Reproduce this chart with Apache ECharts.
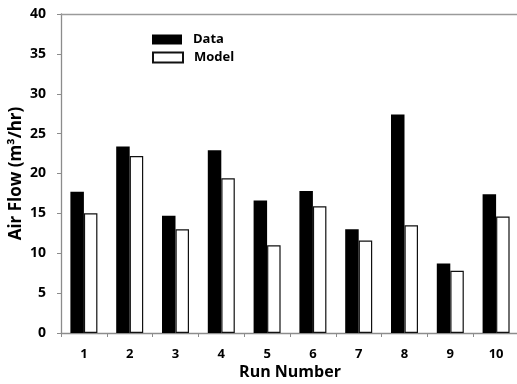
<!DOCTYPE html>
<html><head><meta charset="utf-8">
<script src="https://cdn.jsdelivr.net/npm/echarts@6/dist/echarts.min.js"></script>
<style>html,body{margin:0;padding:0;background:#fff}#c{width:517px;height:384px}</style>
</head><body><div id="c"></div>
<script>
const categories = ['1','2','3','4','5','6','7','8','9','10'];
const dataValues = [17.7, 23.4, 14.7, 22.9, 16.6, 17.8, 13.0, 27.4, 8.7, 17.4];
const modelValues = [15.0, 22.2, 13.0, 19.4, 11.0, 15.9, 11.6, 13.5, 7.8, 14.6];
const yTicks = [0, 5, 10, 15, 20, 25, 30, 35, 40];

const FONT = '"Open Sans"';
const legendText = { fontFamily: FONT, fontWeight: 'bold', fontSize: 13, color: '#000', lineHeight: 10, padding: [0, 0, 0, 6] };
const chart = echarts.init(document.getElementById('c'));
chart.setOption({
  animation: false,
  textStyle: { fontFamily: FONT },
  grid: { left: 61, top: 14, width: 458, height: 319, containLabel: false, outerBoundsMode: 'none' },
  legend: [{
    left: 152, top: 33, padding: 0, itemWidth: 30, itemHeight: 10,
    textStyle: legendText, data: [{ name: 'Data', icon: 'rect' }]
  }, {
    left: 152, top: 51, padding: 0, itemWidth: 30, itemHeight: 10,
    textStyle: legendText, data: [{ name: 'Model', icon: 'rect' }]
  }],
  xAxis: [{
    type: 'category', data: categories,
    name: 'Run Number', nameLocation: 'middle', nameGap: 31, nameMoveOverlap: false,
    nameTextStyle: { fontFamily: FONT, fontWeight: 'bold', fontSize: 16, color: '#000' },
    axisLine: { lineStyle: { color: '#8c8c8c', width: 1.3 } },
    axisTick: { show: true, length: 4, lineStyle: { color: '#8c8c8c' } },
    axisLabel: { fontFamily: FONT, fontWeight: 'bold', fontSize: 13, color: '#000', margin: 15 }
  }, {
    type: 'category', data: categories, position: 'top',
    axisLine: { show: true, lineStyle: { color: '#9a9a9a', width: 1.3 } },
    axisTick: { show: false }, axisLabel: { show: false }
  }],
  yAxis: {
    type: 'value', min: 0, max: 40, interval: 5,
    name: 'Air Flow (m³/hr)', nameLocation: 'middle', nameGap: 36, nameRotate: 90, nameMoveOverlap: false,
    nameTextStyle: { fontFamily: FONT, fontWeight: 'bold', fontSize: 17, color: '#000' },
    axisLine: { show: true, lineStyle: { color: '#8c8c8c', width: 1.3 } },
    axisTick: { show: true, length: 4, lineStyle: { color: '#8c8c8c' } },
    splitLine: { show: false },
    axisLabel: { fontFamily: FONT, fontWeight: 'bold', fontSize: 14, color: '#000', margin: 15,
      formatter: v => yTicks.includes(v) ? String(v) : '' }
  },
  series: [{
    name: 'Data', type: 'bar', data: dataValues, barWidth: 13.5, barGap: '0%',
    itemStyle: { color: '#000', borderColor: '#000', borderWidth: 0 }
  }, {
    name: 'Model', type: 'bar', data: modelValues, barWidth: 13.5,
    itemStyle: { color: '#fff', borderColor: '#111', borderWidth: 1.2 }
  }]
});
</script></body></html>
